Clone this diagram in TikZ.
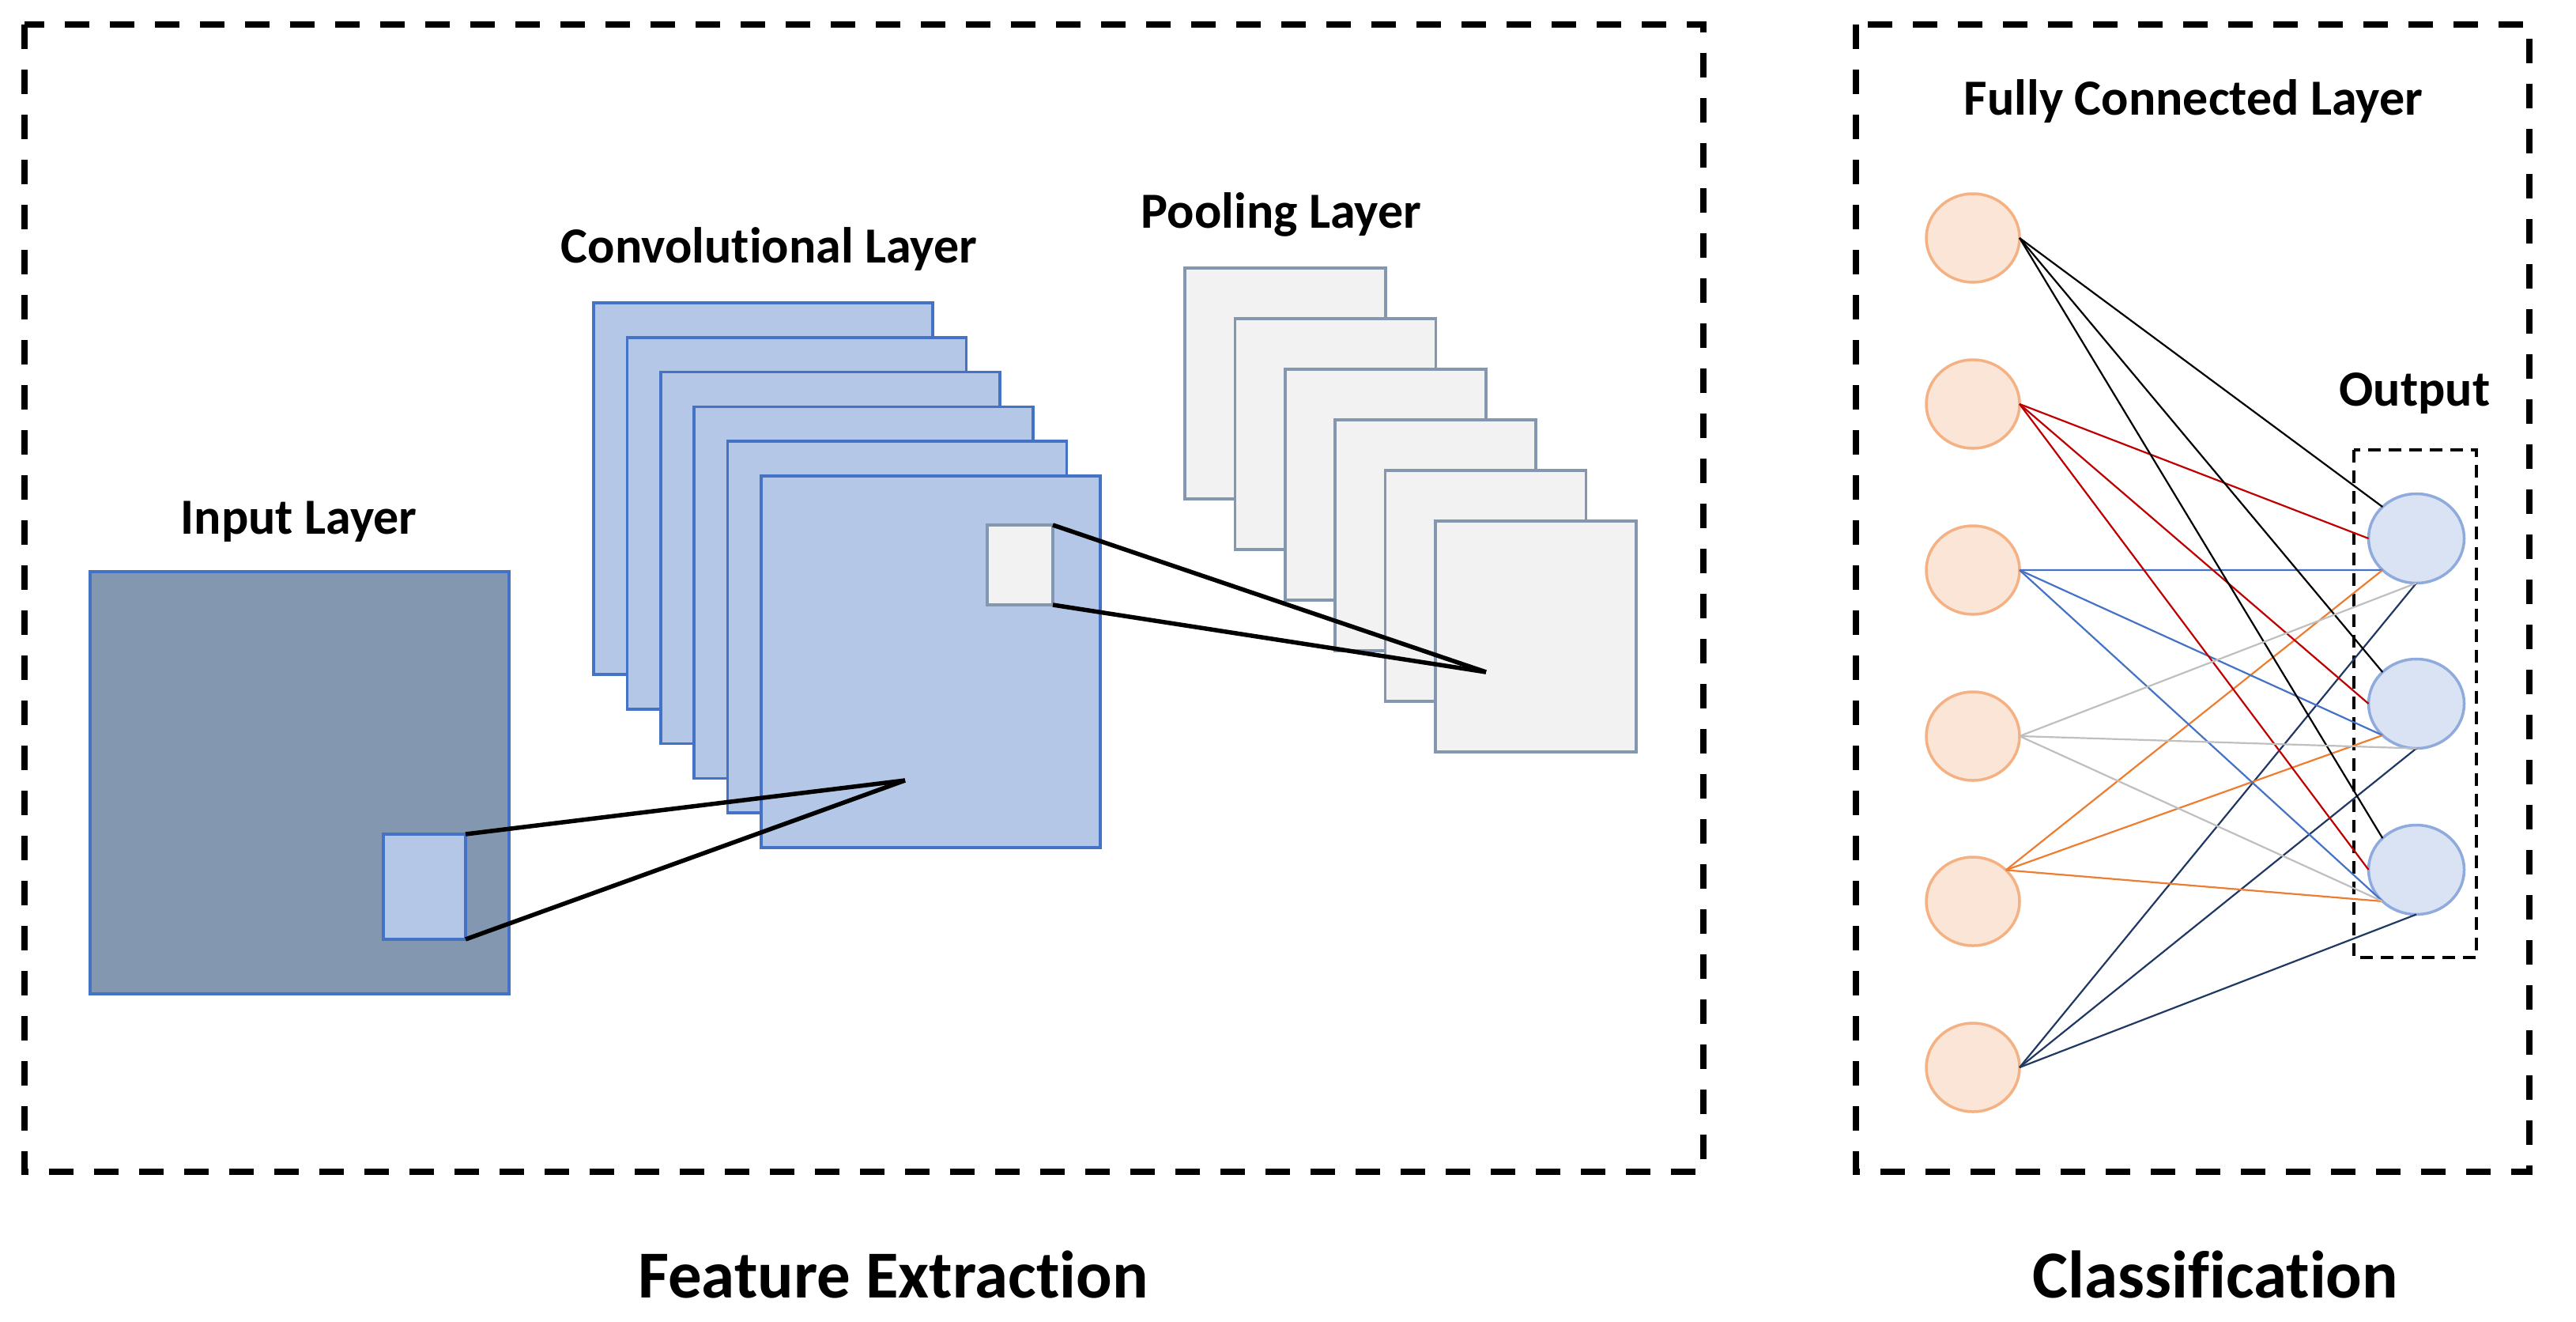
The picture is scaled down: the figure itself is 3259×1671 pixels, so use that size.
\documentclass[tikz,border=0pt]{standalone}
\usepackage{fontspec}
\setmainfont{Carlito}[RawFeature={-liga}]
\usetikzlibrary{shapes.geometric}
\definecolor{inpfill}{HTML}{8497B0}
\definecolor{bluebd}{HTML}{4472C4}
\definecolor{convfill}{HTML}{B4C7E7}
\definecolor{poolfill}{HTML}{F2F2F2}
\definecolor{poolbd}{HTML}{8497B0}
\definecolor{orfill}{HTML}{FBE5D6}
\definecolor{orbd}{HTML}{F4B183}
\definecolor{oufill}{HTML}{DAE3F3}
\definecolor{oubd}{HTML}{8FAADC}
\definecolor{lred}{HTML}{C00000}
\definecolor{lblue}{HTML}{4472C4}
\definecolor{lgray}{HTML}{BFBFBF}
\definecolor{lorange}{HTML}{ED7D31}
\definecolor{lnavy}{HTML}{203864}
\tikzset{
  bigdash/.style={draw=black, line width=8pt, dash pattern=on 31pt off 26pt},
  smalldash/.style={draw=black, line width=3.5pt, dash pattern=on 16pt off 10pt},
  inpbox/.style={draw=bluebd, fill=inpfill, line width=3.5pt, inner sep=0pt, outer sep=0pt, anchor=north west},
  convbox/.style={draw=bluebd, fill=convfill, line width=3.5pt, inner sep=0pt, outer sep=0pt, anchor=north west, minimum width=429pt, minimum height=470pt},
  poolbox/.style={draw=poolbd, fill=poolfill, line width=3.5pt, inner sep=0pt, outer sep=0pt, anchor=north west, minimum width=254pt, minimum height=292pt},
  fcnode/.style={ellipse, draw=orbd, fill=orfill, line width=3.5pt, inner sep=0pt, outer sep=0pt, minimum width=118pt, minimum height=112pt},
  outnode/.style={ellipse, draw=oubd, fill=oufill, line width=3.5pt, inner sep=0pt, outer sep=0pt, minimum width=121pt, minimum height=113pt},
  lbl/.style={font=\fontsize{64pt}{70pt}\selectfont\bfseries, anchor=base, inner sep=0pt},
  biglbl/.style={font=\fontsize{85pt}{92pt}\selectfont\bfseries, anchor=base, inner sep=0pt},
  thick line/.style={draw=black, line width=5.5pt},
  fc/.style={line width=2.2pt},
}
\begin{document}
\begin{tikzpicture}[x=1pt, y=-1pt]
\useasboundingbox (0,0) rectangle (3259,1671);
% outer dashed boxes
\draw[bigdash] (31,31) rectangle (2155,1482);
\draw[bigdash] (2348,31) rectangle (3200,1482);
% input layer
\node[inpbox, minimum width=530pt, minimum height=534pt] (inp) at (114,723) {};
\node[inpbox, fill=convfill, minimum width=104pt, minimum height=133pt] (inpsq) at (485,1055) {};
\node[lbl] (inplbl) at (378,675) {Input Layer};
% conv layers
\foreach \i in {0,...,5} {
  \node[convbox] (c\i) at ({751+42.4*\i},{383+43.8*\i}) {};
}
\node[lbl] (convlbl) at (973,332) {Convolutional Layer};
\node[draw=poolbd, fill=poolfill, line width=3.5pt, inner sep=0pt, outer sep=0pt, anchor=north west, minimum width=83pt, minimum height=101pt] (convsq) at (1249,664) {};
% pooling layers
\foreach \i in {0,...,5} {
  \node[poolbox] (p\i) at ({1499+63.4*\i},{339+64*\i}) {};
}
\node[lbl] (poollbl) at (1621,288) {Pooling Layer};
% receptive field lines
\coordinate (apex1) at (1145,987);
\coordinate (apex2) at (1880,850);
\draw[thick line] (inpsq.north east) -- (apex1);
\draw[thick line] (inpsq.south east) -- (apex1);
\draw[thick line] (convsq.north east) -- (apex2);
\draw[thick line] (convsq.south east) -- (apex2);
% fully connected
\node[lbl] (fclbl) at (2775,145) {Fully Connected Layer};
\node[lbl] (outlbl) at (3055,513) {Output};
\draw[smalldash] (2978,569) rectangle (3133,1211);
\foreach \i/\y in {1/301,2/511,3/721,4/931,5/1140,6/1350} {
  \node[fcnode] (f\i) at (2496,\y) {};
}
\foreach \i/\y in {1/681,2/890,3/1100} {
  \node[outnode] (o\i) at (3057,\y) {};
}
% connections
\foreach \j in {1,2,3} {
  \draw[fc, black] (f1.east) -- (o\j.north west);
  \draw[fc, lred] (f2.east) -- (o\j.west);
  \draw[fc, lblue] (f3.east) -- (o\j.south west);
  \draw[fc, lorange] (f5.north east) -- (o\j.south west);
  \draw[fc, lnavy] (f6.east) -- (o\j.south);
}
\draw[fc, lgray] (f4.east) -- (o1.south);
\draw[fc, lgray] (f4.east) -- (o2.south);
\draw[fc, lgray] (f4.east) -- (o3.south west);
% bottom labels
\node[biglbl] (fe) at (1130,1641) {Feature Extraction};
\node[biglbl] (cl) at (2803,1641) {Classification};
\end{tikzpicture}
\end{document}
